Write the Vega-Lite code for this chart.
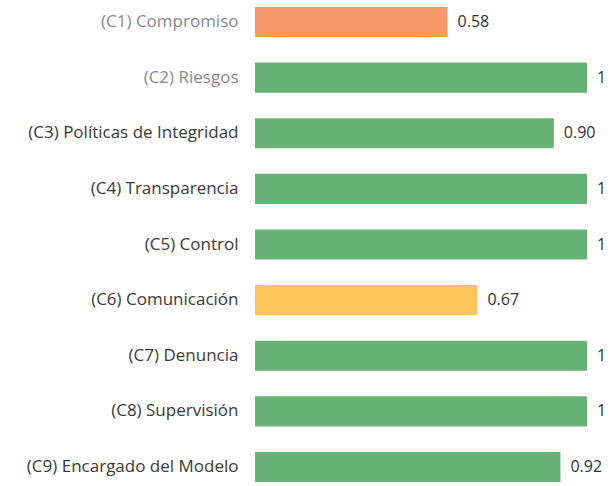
{
  "$schema": "https://vega.github.io/schema/vega-lite/v6.json",
  "width": 332,
  "height": 475,
  "autosize": {"type": "none"},
  "padding": {"left": 255, "top": 7, "right": 26, "bottom": 4},
  "background": "white",
  "config": {"view": {"stroke": null}, "font": "Open Sans"},
  "data": {"values": [
    {"cat": "(C1) Compromiso", "value": 0.58, "label": "0.58", "level": "bajo"},
    {"cat": "(C2) Riesgos", "value": 1, "label": "1", "level": "alto"},
    {"cat": "(C3) Políticas de Integridad", "value": 0.90, "label": "0.90", "level": "alto"},
    {"cat": "(C4) Transparencia", "value": 1, "label": "1", "level": "alto"},
    {"cat": "(C5) Control", "value": 1, "label": "1", "level": "alto"},
    {"cat": "(C6) Comunicación", "value": 0.67, "label": "0.67", "level": "medio"},
    {"cat": "(C7) Denuncia", "value": 1, "label": "1", "level": "alto"},
    {"cat": "(C8) Supervisión", "value": 1, "label": "1", "level": "alto"},
    {"cat": "(C9) Encargado del Modelo", "value": 0.92, "label": "0.92", "level": "alto"}
  ]},
  "encoding": {
    "y": {
      "field": "cat", "type": "nominal", "sort": null,
      "scale": {"paddingInner": 0.46, "paddingOuter": 0},
      "axis": {
        "title": null, "domain": false, "ticks": false, "labelPadding": 17,
        "labelFontSize": 17, "labelFont": "Open Sans", "labelLimit": 300,
        "labelColor": {"condition": {"test": "datum.value === '(C1) Compromiso' || datum.value === '(C2) Riesgos'", "value": "#8a8a8a"}, "value": "#3a3a3a"}
      }
    },
    "x": {
      "field": "value", "type": "quantitative",
      "scale": {"domain": [0, 1], "nice": false},
      "axis": null
    }
  },
  "layer": [
    {
      "mark": {"type": "bar"},
      "encoding": {
        "color": {
          "field": "level", "type": "nominal",
          "scale": {"domain": ["bajo", "medio", "alto"], "range": ["#F79968", "#FBC55C", "#67B275"]},
          "legend": null
        }
      }
    },
    {
      "mark": {"type": "text", "align": "left", "dx": 10, "fontSize": 16, "font": "Open Sans", "color": "#333333"},
      "encoding": {"text": {"field": "label"}}
    }
  ]
}
